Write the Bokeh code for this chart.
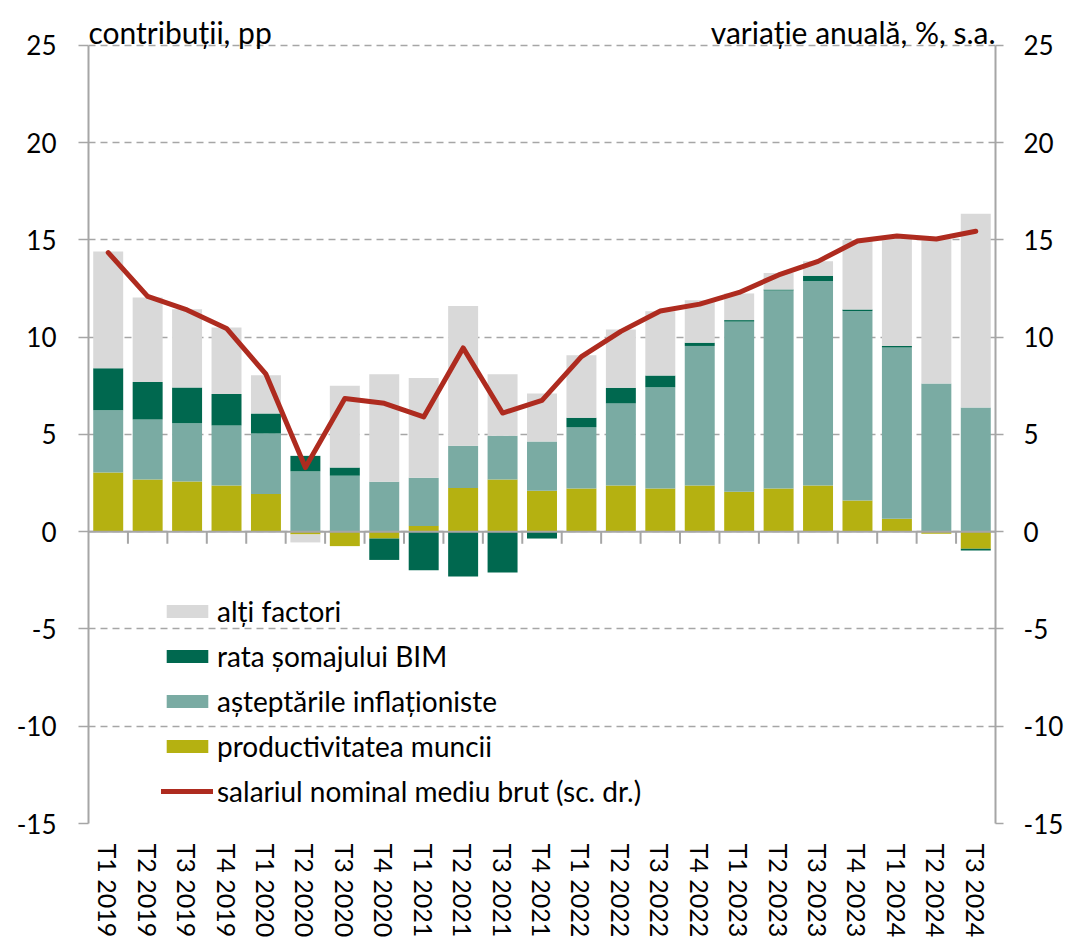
from bokeh.plotting import figure
from bokeh.models import (Range1d, LinearAxis, FixedTicker, Span, Label, Legend,
                          LegendItem, ColumnDataSource)
from bokeh.embed import file_html
from bokeh.resources import INLINE

categories = ["T1 2019", "T2 2019", "T3 2019", "T4 2019", "T1 2020", "T2 2020", "T3 2020",
              "T4 2020", "T1 2021", "T2 2021", "T3 2021", "T4 2021", "T1 2022", "T2 2022",
              "T3 2022", "T4 2022", "T1 2023", "T2 2023", "T3 2023", "T4 2023", "T1 2024",
              "T2 2024", "T3 2024"]

productivitate = [3.05, 2.68, 2.58, 2.37, 1.94, -0.14, -0.74, -0.35, 0.30, 2.25, 2.68, 2.11,
                  2.22, 2.37, 2.22, 2.37, 2.06, 2.22, 2.37, 1.60, 0.67, -0.10, -0.87]
asteptari = [3.19, 3.09, 3.00, 3.09, 3.11, 3.10, 2.88, 2.57, 2.47, 2.17, 2.25, 2.53,
             3.16, 4.23, 5.20, 7.18, 8.74, 10.18, 10.52, 9.75, 8.80, 7.62, 6.38]
somaj = [2.16, 1.93, 1.84, 1.62, 1.03, 0.80, 0.42, -1.10, -1.98, -2.30, -2.10, -0.35,
         0.48, 0.80, 0.61, 0.17, 0.08, 0.05, 0.27, 0.07, 0.08, 0.00, -0.10]
alti_factori = [6.00, 4.34, 4.02, 3.42, 1.96, -0.41, 4.20, 5.53, 5.13, 7.18, 3.17, 2.46,
                3.21, 3.00, 3.31, 2.18, 1.37, 0.85, 0.74, 3.58, 5.60, 7.43, 9.97]
salariu = [14.35, 12.10, 11.40, 10.45, 8.10, 3.30, 6.85, 6.60, 5.90, 9.45, 6.10, 6.75,
           9.00, 10.30, 11.35, 11.70, 12.30, 13.20, 13.90, 14.95, 15.20, 15.05, 15.45]

y_ticks = [-15, -10, -5, 0, 5, 10, 15, 20, 25]
y_tick_labels = {t: str(t) for t in y_ticks}

FONT = "Lato"
GRAY = "#A6A6A6"
n = len(categories)
xs = list(range(n))
Y_MIN, Y_MAX, Y_TOP = -15, 25, 27.31

p = figure(width=1066, height=940, output_backend="svg", toolbar_location=None,
           x_range=Range1d(-0.5, n - 0.5), y_range=Range1d(Y_MIN, Y_TOP),
           min_border_left=88, min_border_right=71, min_border_top=0, min_border_bottom=117)
p.extra_y_ranges = {"right": Range1d(Y_MIN, Y_TOP)}
p.outline_line_color = None
p.background_fill_color = "white"

# stacked bars
series = [("productivitatea muncii", productivitate, "#B5B111"),
          ("așteptările inflaționiste", asteptari, "#7AABA3"),
          ("rata șomajului BIM", somaj, "#00684F"),
          ("alți factori", alti_factori, "#D9D9D9")]
pos = [0.0] * n
neg = [0.0] * n
renderers = {}
for name, vals, color in series:
    bottoms, tops = [], []
    for i, v in enumerate(vals):
        if v >= 0:
            bottoms.append(pos[i]); tops.append(pos[i] + v); pos[i] += v
        else:
            tops.append(neg[i]); bottoms.append(neg[i] + v); neg[i] += v
    src = ColumnDataSource(dict(x=xs, bottom=bottoms, top=tops))
    renderers[name] = p.vbar(x="x", bottom="bottom", top="top", width=0.76, source=src,
                             fill_color=color, line_color=None)

line_r = p.line(xs, salariu, line_color="#AE2B1F", line_width=5, line_join="round",
                line_cap="round", y_range_name="right")

# zero axis line and category separators
p.add_layout(Span(location=0, dimension="width", line_color=GRAY, line_width=2))
sep_x = [i + 0.5 for i in range(n - 1)]
p.segment(x0=sep_x, x1=sep_x, y0=[0] * len(sep_x), y1=[-0.62] * len(sep_x),
          line_color=GRAY, line_width=2)

# axes
p.xaxis.ticker = FixedTicker(ticks=xs)
p.xaxis.major_label_overrides = {i: c for i, c in enumerate(categories)}
p.xaxis.major_label_orientation = "vertical"
p.xaxis.axis_line_color = None
p.xaxis.major_tick_line_color = None
p.xaxis.minor_tick_line_color = None
p.xaxis.major_label_standoff = 14
p.xaxis.major_label_text_font = FONT
p.xaxis.major_label_text_font_size = "25px"
p.xaxis.major_label_text_color = "black"

def style_y(ax, tick_out, standoff):
    ax.ticker = FixedTicker(ticks=y_ticks)
    ax.major_label_overrides = y_tick_labels
    ax.bounds = (Y_MIN, Y_MAX)
    ax.axis_line_color = GRAY
    ax.axis_line_width = 2
    ax.major_tick_line_color = GRAY
    ax.major_tick_line_width = 1.5
    ax.major_tick_out = tick_out
    ax.major_tick_in = 0
    ax.minor_tick_line_color = None
    ax.major_label_standoff = standoff
    ax.major_label_text_font = FONT
    ax.major_label_text_font_size = "26px"
    ax.major_label_text_color = "black"

style_y(p.yaxis[0], 10, 22)
ry = LinearAxis(y_range_name="right")
style_y(ry, 8, 20)
p.add_layout(ry, "right")

p.xgrid.grid_line_color = None
p.ygrid.ticker = FixedTicker(ticks=y_ticks)
p.ygrid.grid_line_color = GRAY
p.ygrid.grid_line_width = 1.5
p.ygrid.grid_line_dash = "7 5"

# header labels
p.add_layout(Label(x=-0.5, y=Y_MAX, y_offset=13, text="contribuții, pp", text_font=FONT,
                   text_font_size="30px", text_color="black", text_baseline="alphabetic"))
p.add_layout(Label(x=n - 0.5, y=Y_MAX, y_offset=13, text="variație anuală, %, s.a.",
                   text_font=FONT, text_font_size="30px", text_color="black",
                   text_align="right", text_baseline="alphabetic"))

legend = Legend(items=[
    LegendItem(label="alți factori", renderers=[renderers["alți factori"]]),
    LegendItem(label="rata șomajului BIM", renderers=[renderers["rata șomajului BIM"]]),
    LegendItem(label="așteptările inflaționiste", renderers=[renderers["așteptările inflaționiste"]]),
    LegendItem(label="productivitatea muncii", renderers=[renderers["productivitatea muncii"]]),
    LegendItem(label="salariul nominal mediu brut (sc. dr.)", renderers=[line_r]),
], location=(73, 15))
legend.background_fill_alpha = 0
legend.border_line_color = None
legend.padding = 0
legend.margin = 0
legend.glyph_width = 52
legend.glyph_height = 16
legend.label_height = 24
legend.spacing = 11
legend.label_standoff = 4
legend.label_text_font = FONT
legend.label_text_font_size = "28px"
legend.label_text_color = "black"
p.add_layout(legend, "center")

open("out.html", "w").write(file_html(p, INLINE))
